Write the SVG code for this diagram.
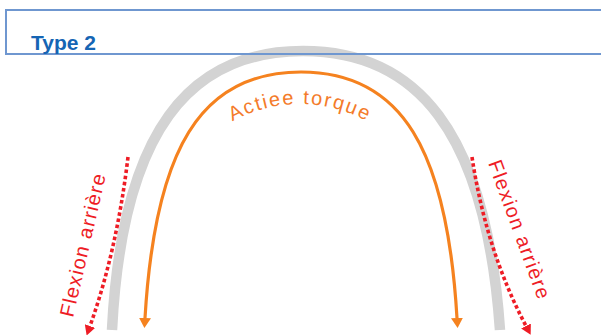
<svg xmlns="http://www.w3.org/2000/svg" width="601" height="336" viewBox="0 0 601 336">
<style>
.red{fill:#ee1c25;font-family:"Liberation Sans",Arial,sans-serif;font-size:20px;letter-spacing:1.3px}
.dot{fill:none;stroke:#ee1c25;stroke-width:3.6;stroke-dasharray:3.6 2.6}
.orange{fill:none;stroke:#f5821f;stroke-width:3.2}
</style>
<defs>
<marker id="ao" viewBox="0 0 10 12" refX="0" refY="6" markerWidth="10" markerHeight="12" markerUnits="userSpaceOnUse" orient="auto"><path d="M0,0 L10,6 L0,12 z" fill="#f5821f"/></marker>
<marker id="ar" viewBox="0 0 10 11" refX="0" refY="5.5" markerWidth="10" markerHeight="11" markerUnits="userSpaceOnUse" orient="auto"><path d="M0,0 L10,5.5 L0,11 z" fill="#ee1c25"/></marker>
<filter id="soft" x="-5%" y="-5%" width="110%" height="110%"><feGaussianBlur stdDeviation="0.7"/></filter>
<path id="arcText" d="M160,244 A140,140 0 0 1 440,244"/>
</defs>
<g id="gray-arch"><path d="M112,330 C122,130 190,51 303,51 C416,51 486,130 500,330" fill="none" stroke="#d3d3d3" stroke-width="10.5" filter="url(#soft)"/></g>
<g id="header"><rect x="6" y="10" width="620" height="44" fill="none" stroke="#6f97d0" stroke-width="2"/>
<text x="31" y="50" font-family="'Liberation Sans',Arial,sans-serif" font-size="21" font-weight="bold" fill="#1565b4">Type 2</text></g>
<g id="connectors">
<path class="orange" d="M301,72 C200,72 155,150 145,318" marker-end="url(#ao)"/>
<path class="orange" d="M301,72 C402,72 447,150 457,318" marker-end="url(#ao)"/>
<path class="dot" d="M128,157 Q117,250 90,326" marker-end="url(#ar)"/>
<path class="dot" d="M472,157 Q486,250 526,326" marker-end="url(#ar)"/>
</g>
<g id="label-torque"><text font-family="'Liberation Sans',Arial,sans-serif" font-size="20" letter-spacing="1.8" fill="#f47b2a"><textPath href="#arcText" startOffset="50%" text-anchor="middle">Actiee torque</textPath></text></g>
<g id="label-left"><text class="red" transform="translate(73,318) rotate(-77)">Flexion arrière</text></g>
<g id="label-right"><text class="red" transform="translate(488,163) rotate(70)">Flexion arrière</text></g>
</svg>
